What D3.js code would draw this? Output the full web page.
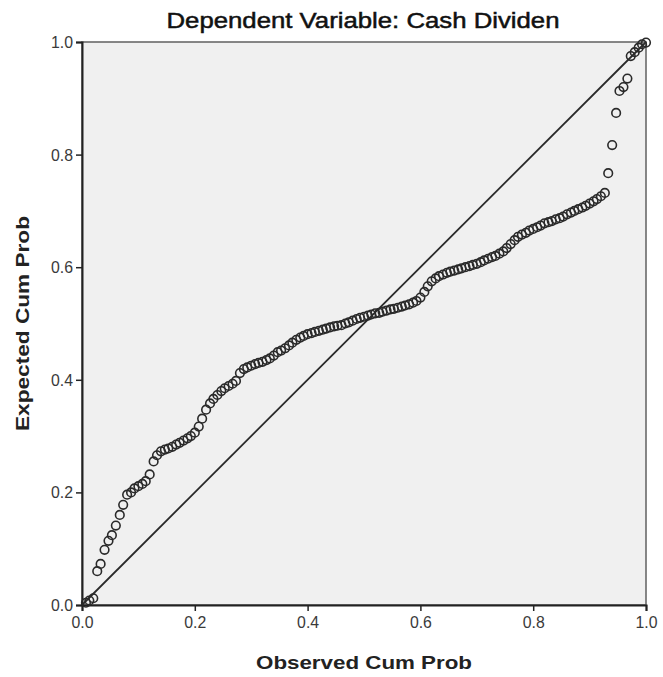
<!DOCTYPE html>
<meta charset="utf-8">
<style>
  body { margin: 0; background: #fff; }
  text { font-family: Arial, "Liberation Sans", sans-serif; }
</style>
<body>
<div id="chart"></div>
<script src="https://d3js.org/d3.v7.min.js"></script>
<script>
// P-P plot of regression residuals
var observed = [
  0.007, 0.013, 0.020, 0.027, 0.033, 0.040, 0.047, 0.053, 0.060, 0.067,
  0.073, 0.080, 0.087, 0.093, 0.100, 0.107, 0.113, 0.120, 0.127, 0.133,
  0.140, 0.147, 0.153, 0.160, 0.167, 0.173, 0.180, 0.187, 0.193, 0.200,
  0.207, 0.213, 0.220, 0.227, 0.233, 0.240, 0.247, 0.253, 0.260, 0.267,
  0.273, 0.280, 0.287, 0.293, 0.300, 0.307, 0.313, 0.320, 0.327, 0.333,
  0.340, 0.347, 0.353, 0.360, 0.367, 0.373, 0.380, 0.387, 0.393, 0.400,
  0.407, 0.413, 0.420, 0.427, 0.433, 0.440, 0.447, 0.453, 0.460, 0.467,
  0.473, 0.480, 0.487, 0.493, 0.500, 0.507, 0.513, 0.520, 0.527, 0.533,
  0.540, 0.547, 0.553, 0.560, 0.567, 0.573, 0.580, 0.587, 0.593, 0.600,
  0.607, 0.613, 0.620, 0.627, 0.633, 0.640, 0.647, 0.653, 0.660, 0.667,
  0.673, 0.680, 0.687, 0.693, 0.700, 0.707, 0.713, 0.720, 0.727, 0.733,
  0.740, 0.747, 0.753, 0.760, 0.767, 0.773, 0.780, 0.787, 0.793, 0.800,
  0.807, 0.813, 0.820, 0.827, 0.833, 0.840, 0.847, 0.853, 0.860, 0.867,
  0.873, 0.880, 0.887, 0.893, 0.900, 0.907, 0.913, 0.920, 0.927, 0.933,
  0.940, 0.947, 0.953, 0.960, 0.967, 0.973, 0.980, 0.987, 0.993, 1.000
];
var expected = [
  0.004, 0.008, 0.012, 0.060, 0.073, 0.098, 0.114, 0.124, 0.141, 0.160,
  0.178, 0.196, 0.200, 0.207, 0.211, 0.215, 0.220, 0.232, 0.255, 0.266,
  0.273, 0.276, 0.278, 0.281, 0.285, 0.288, 0.292, 0.296, 0.300, 0.306,
  0.317, 0.331, 0.347, 0.358, 0.366, 0.373, 0.380, 0.385, 0.389, 0.393,
  0.398, 0.412, 0.419, 0.422, 0.425, 0.428, 0.430, 0.432, 0.435, 0.438,
  0.443, 0.449, 0.452, 0.456, 0.461, 0.466, 0.471, 0.475, 0.478, 0.481,
  0.483, 0.485, 0.487, 0.489, 0.491, 0.493, 0.495, 0.496, 0.497, 0.500,
  0.502, 0.505, 0.508, 0.510, 0.512, 0.514, 0.516, 0.518, 0.519, 0.521,
  0.523, 0.525, 0.526, 0.528, 0.530, 0.532, 0.534, 0.537, 0.540, 0.546,
  0.556, 0.566, 0.575, 0.580, 0.584, 0.587, 0.590, 0.592, 0.594, 0.596,
  0.598, 0.600, 0.602, 0.604, 0.606, 0.609, 0.612, 0.615, 0.618, 0.620,
  0.624, 0.628, 0.634, 0.641, 0.648, 0.654, 0.658, 0.661, 0.665, 0.668,
  0.671, 0.674, 0.678, 0.680, 0.682, 0.685, 0.687, 0.690, 0.694, 0.697,
  0.700, 0.703, 0.706, 0.709, 0.713, 0.717, 0.721, 0.726, 0.732, 0.767,
  0.817, 0.874, 0.913, 0.920, 0.935, 0.975, 0.982, 0.990, 0.996, 0.999
];
var ticks = [0, 0.2, 0.4, 0.6, 0.8, 1.0];
var tickLabels = ["0.0", "0.2", "0.4", "0.6", "0.8", "1.0"];

var title = "Dependent Variable: Cash Dividen";
var xTitle = "Observed Cum Prob";
var yTitle = "Expected Cum Prob";

var W = 663, H = 677;
var margin = { top: 42, right: 17, bottom: 72, left: 82 };
var w = W - margin.left - margin.right;
var h = H - margin.top - margin.bottom;

var svg = d3.select("#chart").append("svg")
  .attr("width", W)
  .attr("height", H);

var g = svg.append("g")
  .attr("transform", "translate(" + margin.left + "," + margin.top + ")");

var x = d3.scaleLinear().domain([0, 1]).range([0, w]);
var y = d3.scaleLinear().domain([0, 1]).range([h, 0]);

// plot background + frame
g.append("rect")
  .attr("width", w).attr("height", h)
  .attr("fill", "#f0f0f0")
  .attr("stroke", "#6a6a6a")
  .attr("stroke-width", 1.6);

// axes
var fmt = function (d, i) { return tickLabels[i]; };
var xAxis = g.append("g")
  .attr("transform", "translate(0," + h + ")")
  .call(d3.axisBottom(x).tickValues(ticks).tickFormat(fmt).tickSize(6).tickPadding(5));
var yAxis = g.append("g")
  .call(d3.axisLeft(y).tickValues(ticks).tickFormat(fmt).tickSize(6).tickPadding(3));

[xAxis, yAxis].forEach(function (a) {
  a.select(".domain").attr("stroke", "#222").attr("stroke-width", 2);
  a.selectAll(".tick line").attr("stroke", "#222").attr("stroke-width", 1.5);
  a.selectAll("text")
    .attr("font-size", 17)
    .attr("fill", "#3a3a3a")
    .attr("textLength", 22)
    .attr("lengthAdjust", "spacingAndGlyphs");
});

// reference diagonal
g.append("line")
  .attr("x1", x(0)).attr("y1", y(0))
  .attr("x2", x(1)).attr("y2", y(1))
  .attr("stroke", "#2a2a2a")
  .attr("stroke-width", 1.8);

// points
g.append("g").selectAll("circle")
  .data(observed)
  .enter().append("circle")
  .attr("cx", function (d) { return x(d); })
  .attr("cy", function (d, i) { return y(expected[i]); })
  .attr("r", 4.3)
  .attr("fill", "none")
  .attr("stroke", "#2a2a2a")
  .attr("stroke-width", 1.6);

// titles
svg.append("text")
  .attr("x", margin.left + w / 2 - 1)
  .attr("y", 28)
  .attr("text-anchor", "middle")
  .attr("font-size", 22)
  .attr("fill", "#111")
  .attr("stroke", "#111")
  .attr("stroke-width", 0.5)
  .attr("textLength", 393)
  .attr("lengthAdjust", "spacingAndGlyphs")
  .text(title);

svg.append("text")
  .attr("x", margin.left + w / 2)
  .attr("y", 669)
  .attr("text-anchor", "middle")
  .attr("font-size", 19)
  .attr("font-weight", "bold")
  .attr("fill", "#222")
  .attr("textLength", 216)
  .attr("lengthAdjust", "spacingAndGlyphs")
  .text(xTitle);

svg.append("text")
  .attr("transform", "translate(29," + (margin.top + h / 2) + ") rotate(-90)")
  .attr("text-anchor", "middle")
  .attr("font-size", 19)
  .attr("font-weight", "bold")
  .attr("fill", "#222")
  .attr("textLength", 215)
  .attr("lengthAdjust", "spacingAndGlyphs")
  .text(yTitle);
</script>
</body>
